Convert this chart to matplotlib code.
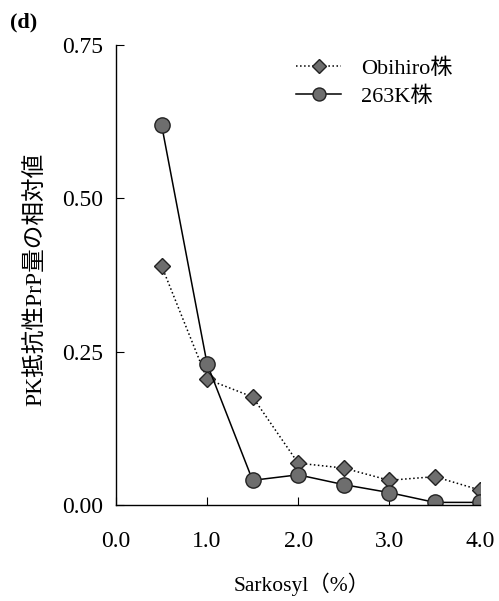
import matplotlib.pyplot as plt
import numpy as np

plt.rcParams['font.family'] = ['Liberation Serif', 'Noto Sans CJK JP']

sarkosyl = [0.5, 1.0, 1.5, 2.0, 2.5, 3.0, 3.5, 4.0]
obihiro = [0.39, 0.205, 0.176, 0.068, 0.060, 0.040, 0.046, 0.024]
k263 = [0.62, 0.230, 0.040, 0.049, 0.033, 0.020, 0.004, 0.004]

xticks = [0.0, 1.0, 2.0, 3.0, 4.0]
yticks = [0.00, 0.25, 0.50, 0.75]

fig = plt.figure(figsize=(4.99, 6.01), dpi=100)
ax = fig.add_axes([0.2325, 0.16, 0.73, 0.765])

ax.plot(sarkosyl, obihiro, linestyle=':', color='black', linewidth=1.1,
        marker='D', markersize=8.5, markerfacecolor='#6e6e6e',
        markeredgecolor='#222222', markeredgewidth=1.0, label='Obihiro株')
ax.plot(sarkosyl, k263, linestyle='-', color='black', linewidth=1.1,
        marker='o', markersize=11, markerfacecolor='#6e6e6e',
        markeredgecolor='#222222', markeredgewidth=1.0, label='263K株')

ax.set_xlim(0, 4.0)
ax.set_ylim(0, 0.75)
ax.set_xticks(xticks)
ax.set_xticklabels(['%.1f' % v for v in xticks])
ax.set_yticks(yticks)
ax.set_yticklabels(['%.2f' % v for v in yticks])
ax.tick_params(direction='in', length=6, labelsize=17)
ax.tick_params(axis='x', pad=19)
ax.tick_params(axis='y', pad=9)
ax.spines['top'].set_visible(False)
ax.spines['right'].set_visible(False)
for s in ['left', 'bottom']:
    ax.spines[s].set_linewidth(1.0)
ax.patch.set_alpha(0)

ax.set_xlabel('Sarkosyl（%）', fontsize=15.5)
ax.xaxis.set_label_coords(0.51, -0.148)
ax.set_ylabel('PK抵抗性PrP量の相対値', fontsize=17)
ax.yaxis.set_label_coords(-0.19, 0.49)

leg = ax.legend(loc='upper left', bbox_to_anchor=(0.44, 1.015), frameon=False,
                fontsize=16, handlelength=2.0, handletextpad=0.9,
                labelspacing=0.35, markerscale=0.85)

fig.text(0.02, 0.955, '(d)', fontsize=16, fontweight='bold')

fig.savefig('out.png', dpi=100)
